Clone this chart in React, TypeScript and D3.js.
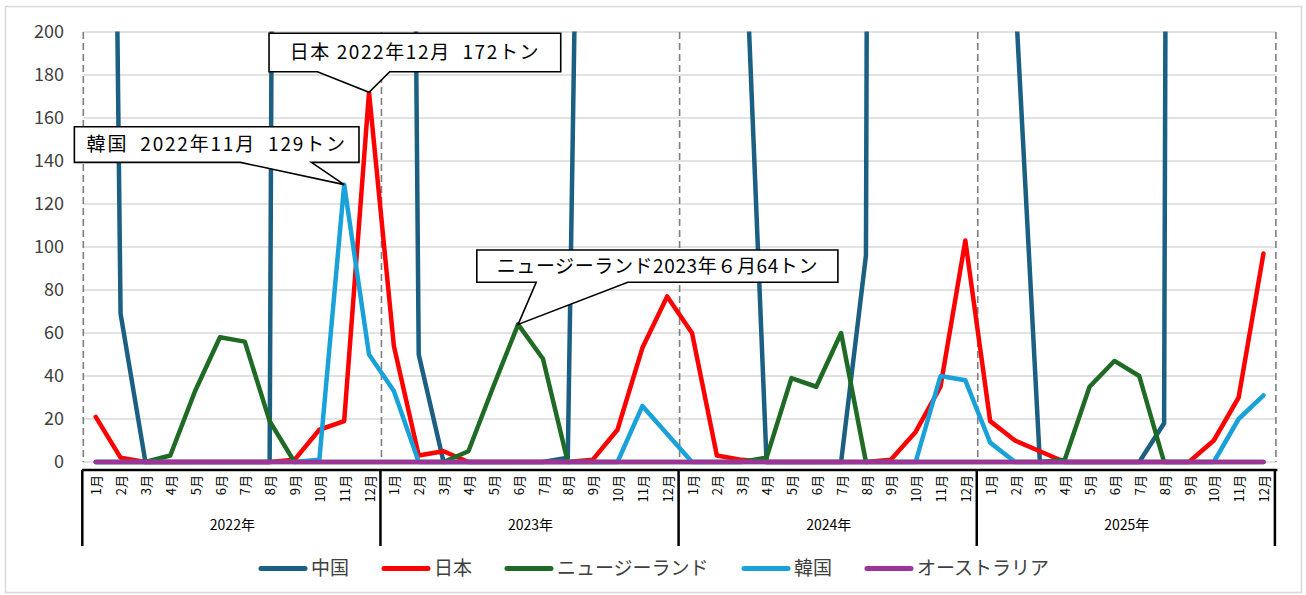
import React from 'react';
import * as d3 from 'd3';

// ---------- data ----------
const YEARS = ['2022年', '2023年', '2024年', '2025年'];
const MONTH_LABELS = ['1月', '2月', '3月', '4月', '5月', '6月', '7月', '8月', '9月', '10月', '11月', '12月'];
const SERIES_NAMES = ['中国', '日本', 'ニュージーランド', '韓国', 'オーストラリア'];
const SERIES_COLORS = ['#1b5f83', '#ff0000', '#1f6b26', '#19a1d9', '#9d3599'];
const Y_TICKS = [0, 20, 40, 60, 80, 100, 120, 140, 160, 180, 200];

// monthly values (tons), Jan 2022 .. Dec 2025
const CHINA = [
  1100, 69, 0, 0, 0, 0, 0, 0, 2600, 2500, 2300, 2100,
  1400, 50, 0, 0, 0, 0, 0, 2, 750, 1500, 1800, 2000,
  1500, 900, 285, 0, 0, 0, 0, 96, 3500, 2500, 2000, 1800,
  1200, 220, 0, 0, 0, 0, 0, 18, 3500, 3000, 2500, 2200,
];
const JAPAN = [
  21, 2, 0, 0, 0, 0, 0, 0, 1, 15, 19, 172,
  54, 3, 5, 0, 0, 0, 0, 0, 1, 15, 53, 77,
  60, 3, 1, 0, 0, 0, 0, 0, 1, 14, 35, 103,
  19, 10, 5, 0, 0, 0, 0, 0, 0, 10, 30, 97,
];
const NEW_ZEALAND = [
  0, 0, 0, 3, 33, 58, 56, 19, 0, 0, 0, 0,
  0, 0, 0, 5, 35, 64, 48, 0, 0, 0, 0, 0,
  0, 0, 0, 2, 39, 35, 60, 0, 0, 0, 0, 0,
  0, 0, 0, 1, 35, 47, 40, 0, 0, 0, 0, 0,
];
const KOREA = [
  0, 0, 0, 0, 0, 0, 0, 0, 0, 1, 129, 50,
  33, 0, 0, 0, 0, 0, 0, 0, 0, 0, 26, 13,
  0, 0, 0, 0, 0, 0, 0, 0, 0, 0, 40, 38,
  9, 0, 0, 0, 0, 0, 0, 0, 0, 0, 20, 31,
];
const AUSTRALIA = [
  0, 0, 0, 0, 0, 0, 0, 0, 0, 0, 0, 0,
  0, 0, 0, 0, 0, 0, 0, 0, 0, 0, 0, 0,
  0, 0, 0, 0, 0, 0, 0, 0, 0, 0, 0, 0,
  0, 0, 0, 0, 0, 0, 0, 0, 0, 0, 0, 0,
];
const SERIES_VALUES = [CHINA, JAPAN, NEW_ZEALAND, KOREA, AUSTRALIA];

// callouts: series index, month index, text
const CALLOUT_SERIES = [1, 3, 2];
const CALLOUT_MONTH = [11, 10, 17];
const CALLOUT_TEXT = ['日本 2022年12月  172トン', '韓国  2022年11月  129トン', 'ニュージーランド2023年６月64トン'];

// ---------- layout ----------
const W = 1306;
const H = 595;
const PLOT = { left: 83.3, right: 1275.9, top: 32, bottom: 462 };
const FONT = "'Noto Sans CJK JP', 'Noto Sans', sans-serif";
const TEXT_COLOR = '#404040';

// callout geometry relative to the pointed data point
const CALLOUT_BOX = [
  { l: -100, r: 191.7, t: -59, b: -20.5, w1: -51.6, w2: 20.7, ls: 1.6 },
  { l: -269.8, r: 14.8, t: -57.9, b: -22.3, w1: -103.8, w2: -32.8, ls: 1.8 },
  { l: -41.3, r: 319.8, t: -74.4, b: -42.1, w1: 18.1, w2: 109.7, ls: 0.6 },
];

export default function App() {
  const n = YEARS.length * MONTH_LABELS.length;
  const x = d3.scaleBand<number>().domain(d3.range(n)).range([PLOT.left, PLOT.right]).padding(0);
  const cx = (i: number) => (x(i) as number) + x.bandwidth() / 2;
  const y = d3.scaleLinear().domain([0, 200]).range([PLOT.bottom, PLOT.top]);

  const line = d3
    .line<number>()
    .x((_, i) => cx(i))
    .y((d) => y(d));

  const yearBounds = d3.range(YEARS.length + 1).map((k) =>
    k < YEARS.length ? (x(k * 12) as number) : PLOT.right
  );

  // legend layout
  const legendFont = 19;
  const swatch = 48;
  const legendItems = SERIES_NAMES.map((name) => swatch + 5 + name.length * legendFont);
  const legendGap = 32;
  const legendTotal = d3.sum(legendItems) + legendGap * (legendItems.length - 1);
  let lx = 655 - legendTotal / 2;
  const legendPos = legendItems.map((w) => {
    const p = lx;
    lx += w + legendGap;
    return p;
  });
  const legendY = 568.5;

  const axisY = 470;

  return (
    <svg
      width={W}
      height={H}
      style={{ position: 'absolute', left: 0, top: 0, background: '#fff' }}
      fontFamily={FONT}
    >
      <defs>
        <clipPath id="plotClip">
          <rect x={PLOT.left - 5} y={PLOT.top - 0.5} width={PLOT.right - PLOT.left + 10} height={PLOT.bottom - PLOT.top + 10} />
        </clipPath>
      </defs>
      <rect x={0} y={0} width={W} height={H} fill="#fff" />
      <rect x={5.5} y={6.5} width={1296} height={586} fill="#fff" stroke="#d9d9d9" strokeWidth={1.5} />

      {/* gridlines */}
      {Y_TICKS.map((t) => (
        <line key={'g' + t} x1={PLOT.left} x2={PLOT.right} y1={y(t)} y2={y(t)} stroke="#d9d9d9" strokeWidth={1.5} />
      ))}
      {/* y labels */}
      {Y_TICKS.map((t) => (
        <text key={'yl' + t} x={64} y={y(t)} dy="0.36em" textAnchor="end" fontSize={18} fill={TEXT_COLOR}>
          {t}
        </text>
      ))}
      {/* dashed year boundaries */}
      {yearBounds.map((bx, k) => (
        <line
          key={'d' + k}
          x1={bx}
          x2={bx}
          y1={PLOT.top}
          y2={PLOT.bottom}
          stroke="#7f7f7f"
          strokeWidth={1.6}
          strokeDasharray="7,4"
        />
      ))}

      {/* series lines */}
      <g clipPath="url(#plotClip)">
        {SERIES_VALUES.map((vals, s) => (
          <path
            key={'s' + s}
            d={line(vals) as string}
            fill="none"
            stroke={SERIES_COLORS[s]}
            strokeWidth={4.5}
            strokeLinejoin="round"
            strokeLinecap="round"
          />
        ))}
      </g>

      {/* x axis (two-level) */}
      <line x1={PLOT.left - 1.5} x2={PLOT.right + 1.5} y1={axisY} y2={axisY} stroke="#000" strokeWidth={2.5} />
      {yearBounds.map((bx, k) => (
        <line key={'yb' + k} x1={bx - 1} x2={bx - 1} y1={axisY} y2={546} stroke="#000" strokeWidth={2.5} />
      ))}
      {d3.range(n).map((i) => (
        <text
          key={'m' + i}
          transform={`translate(${cx(i) + 1},${axisY + 5}) rotate(-90)`}
          textAnchor="end"
          dy="0.35em"
          fontSize={13}
          fill="#000"
        >
          {MONTH_LABELS[i % 12]}
        </text>
      ))}
      {YEARS.map((yr, k) => (
        <text
          key={'yr' + k}
          x={(yearBounds[k] + yearBounds[k + 1]) / 2}
          y={525}
          dy="0.35em"
          textAnchor="middle"
          fontSize={14}
          fill="#000"
        >
          {yr}
        </text>
      ))}

      {/* callouts */}
      {CALLOUT_TEXT.map((txt, c) => {
        const tx = cx(CALLOUT_MONTH[c]);
        const ty = y(SERIES_VALUES[CALLOUT_SERIES[c]][CALLOUT_MONTH[c]]);
        const g = CALLOUT_BOX[c];
        const d = `M${tx + g.l},${ty + g.t} H${tx + g.r} V${ty + g.b} H${tx + g.w2} L${tx},${ty} L${tx + g.w1},${ty + g.b} H${tx + g.l} Z`;
        return (
          <g key={'c' + c}>
            <path d={d} fill="#fff" stroke="#000" strokeWidth={1.6} strokeLinejoin="miter" />
            <text
              x={tx + (g.l + g.r) / 2}
              y={ty + (g.t + g.b) / 2}
              dy="0.36em"
              textAnchor="middle"
              fontSize={19}
              letterSpacing={g.ls}
              fill="#000"
              style={{ whiteSpace: 'pre' }}
            >
              {txt}
            </text>
          </g>
        );
      })}

      {/* legend */}
      {SERIES_NAMES.map((name, s) => (
        <g key={'lg' + s}>
          <line
            x1={legendPos[s] + 2}
            x2={legendPos[s] + swatch - 2}
            y1={legendY}
            y2={legendY}
            stroke={SERIES_COLORS[s]}
            strokeWidth={5}
            strokeLinecap="round"
          />
          <text x={legendPos[s] + swatch + 4} y={legendY} dy="0.36em" fontSize={legendFont} fill={TEXT_COLOR}>
            {name}
          </text>
        </g>
      ))}
    </svg>
  );
}
